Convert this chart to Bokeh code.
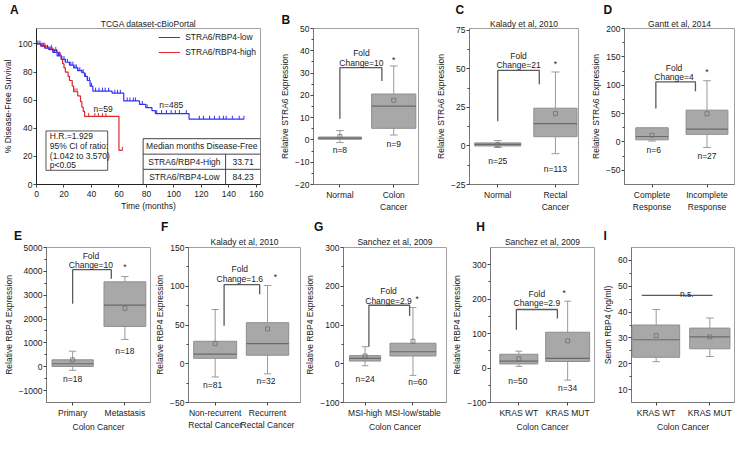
from bokeh.plotting import figure
from bokeh.layouts import column, row
from bokeh.models import Range1d, FixedTicker, Legend, LegendItem, ColumnDataSource, Title
from bokeh.embed import file_html
from bokeh.resources import INLINE
from bokeh.core.properties import value

FONT = "Liberation Sans"
FS = "8.5px"
TXT = "#1a1a1a"
ROW_H = 217
BLUE = "#3030ff"
RED = "#e0282c"
BOX_FILL = "#a8a8a8"
BOX_LINE = "#8e8e8e"
MED_COL = "#6a6a6a"
WHISK = "#9a9a9a"
BRK = "#5a5a5a"

# ---------------- Panel A: Kaplan-Meier (TCGA dataset-cBioPortal) ----------------
A_low_t = [0, 3, 6, 9, 12, 15, 18, 21, 24, 27, 30, 33, 35, 37, 39, 41, 55, 63.5, 75, 79.5, 84, 86.5, 111, 151]
A_low_s = [100, 98.5, 97, 96, 94, 91.5, 89, 87, 85, 83, 81, 79.5, 77, 74, 70, 66.5, 65, 59.5, 57, 54.7, 52.5, 50.5, 46.5, 46.5]
A_low_cens = [1, 2.5, 4, 5, 6.5, 8, 9, 10.5, 12, 13, 14.5, 16, 17, 18.5, 20, 21, 22.5, 24, 25, 26.5, 28, 29,
              30, 31.5, 33, 34, 35.5, 37, 38.5, 40, 43, 45.5, 48, 50, 52.5, 57, 59, 61, 66, 68, 70.5, 72, 77,
              80.5, 87.5, 91, 94.5, 98, 101, 104, 109, 118.5, 121.5, 126, 129.5, 133, 136, 138, 142.5, 147.5, 151]
A_high_t = [0, 4, 8, 12, 15, 17, 18, 19, 20, 21, 23, 24, 26, 27, 30, 32, 33, 34, 35, 60, 62.5]
A_high_s = [100, 98.5, 97, 95.5, 94, 92, 89, 86, 83, 80, 77, 74, 70, 66, 63, 59, 55, 52, 48.5, 24.3, 24.3]
A_high_cens = [6, 11, 14, 28, 29.5, 38, 42.5, 45, 48, 50.5, 62.5]
A_groups = ["STRA6/RBP4-low", "STRA6/RBP4-high"]
A_n = [485, 59]
A_hr = 1.929
A_ci = (1.042, 3.570)
A_p = "p<0.05"
A_table_groups = ["STRA6/RBP4-High", "STRA6/RBP4-Low"]
A_table_median = ["33.71", "84.23"]

# ---------------- Box panels ----------------
B_labels = ["Normal", "Colon\nCancer"]
B_q1 = [0.3, 5.2]
B_med = [0.8, 15.2]
B_q3 = [1.3, 20.6]
B_wlo = [-1.2, 2.2]
B_whi = [4.2, 33.2]
B_mean = [1.5, 17.8]
B_n = [8, 9]
B_fold = 10

C_labels = ["Normal", "Rectal\nCancer"]
C_q1 = [0.0, 6.0]
C_med = [1.0, 14.5]
C_q3 = [2.0, 24.5]
C_wlo = [-1.0, -5.0]
C_whi = [3.5, 48.0]
C_mean = [0.8, 21.0]
C_n = [25, 113]
C_fold = 21

D_labels = ["Complete\nResponse", "Incomplete\nResponse"]
D_q1 = [3.7, 13.4]
D_med = [9.6, 22.6]
D_q3 = [25.0, 56.0]
D_wlo = [1.6, -9.7]
D_whi = [24.0, 108.0]
D_mean = [12.0, 49.8]
D_n = [6, 27]
D_fold = 4

E_labels = ["Primary", "Metastasis"]
E_q1 = [10, 1690]
E_med = [125, 2580]
E_q3 = [290, 3560]
E_wlo = [-150, 1145]
E_whi = [650, 3780]
E_mean = [290, 2450]
E_n = [18, 18]
E_fold = 10

F_labels = ["Non-recurrent\nRectal Cancer", "Recurrent\nRectal Cancer"]
F_q1 = [7, 11]
F_med = [12.5, 26]
F_q3 = [29, 53]
F_wlo = [-17, -13]
F_whi = [70, 101]
F_mean = [26, 45]
F_n = [81, 32]
F_fold = 1.6

G_labels = ["MSI-high", "MSI-low/stable"]
G_q1 = [7, 20]
G_med = [14, 31]
G_q3 = [21, 53]
G_wlo = [-5, -30]
G_whi = [44, 145]
G_mean = [20, 58]
G_n = [24, 60]
G_fold = 2.9

H_labels = ["KRAS WT", "KRAS MUT"]
H_q1 = [12, 19]
H_med = [20, 28]
H_q3 = [40, 104]
H_wlo = [5, -35]
H_whi = [49, 194]
H_mean = [27, 79]
H_n = [50, 34]
H_fold = 2.9

I_labels = ["KRAS WT", "KRAS MUT"]
I_q1 = [22.5, 25.8]
I_med = [29.3, 30.4]
I_q3 = [35.0, 33.8]
I_wlo = [20.8, 22.8]
I_whi = [41.0, 37.7]
I_mean = [30.9, 30.4]


def make_fig(cfg):
    p = figure(width=cfg["W"], height=ROW_H, x_range=Range1d(*cfg["xr"]), y_range=Range1d(*cfg["yr"]),
               tools="", toolbar_location=None, output_backend="svg",
               min_border_left=cfg["L"], min_border_right=cfg["R"],
               min_border_top=cfg["T"], min_border_bottom=cfg["B"])
    p.grid.visible = False
    p.outline_line_color = "#a0a0a0"
    p.outline_line_width = 1
    p.background_fill_color = "white"
    p.border_fill_color = "white"
    for ax in p.axis:
        ax.axis_line_color = "#777777"
        ax.major_tick_line_color = "#444444"
        ax.minor_tick_line_color = "#444444"
        ax.major_tick_out = 3
        ax.major_tick_in = 0
        ax.minor_tick_out = 2
        ax.minor_tick_in = 0
        ax.major_label_text_font = FONT
        ax.major_label_text_font_size = FS
        ax.major_label_text_color = TXT
        ax.major_label_standoff = 1
        ax.axis_label_text_font = FONT
        ax.axis_label_text_font_size = FS
        ax.axis_label_text_font_style = "normal"
        ax.axis_label_text_color = TXT
        ax.axis_label_standoff = 2
    p.title.text = cfg["letter"]
    p.title.text_font = FONT
    p.title.text_font_size = "12px"
    p.title.text_font_style = "bold"
    p.title.text_color = "#111111"
    p.title.align = "left"
    p.title.offset = cfg["lx"] - 4 - cfg["L"]
    p.title.standoff = cfg.get("lstand", 0)
    if cfg.get("title"):
        p.add_layout(Title(text=cfg["title"], align="center", text_font=FONT, text_font_size=FS,
                           text_font_style="normal", text_color=TXT, standoff=cfg.get("tstand", 0)), "above")
    return p


def txt(p, xs, ys, texts, align="center", baseline="middle", size=FS):
    p.text(x=xs, y=ys, text=texts, text_font=value(FONT), text_font_size=value(size),
           text_color=TXT, text_align=align, text_baseline=baseline)


def km_level(times, surv, t):
    level = surv[0]
    for ti, si in zip(times, surv):
        if ti <= t:
            level = si
    return level


# ---------------- build panel A ----------------
cA = dict(W=277, L=29, R=17, T=24, B=33, xr=(0, 163), yr=(0, 111), letter="A", lx=6.6,
          title="TCGA dataset-cBioPortal", tstand=0)
pa = make_fig(cA)
pa.xaxis.ticker = FixedTicker(ticks=[0, 20, 40, 60, 80, 100, 120, 140, 160])
pa.yaxis.ticker = FixedTicker(ticks=[0, 20, 40, 60, 80, 100])
pa.xaxis.axis_label = "Time (months)"
pa.yaxis.axis_label = "% Disease-Free Survival"
pa.xaxis.major_label_standoff = 3
pa.xaxis.axis_label_standoff = 1
pa.axis.axis_line_color = "#222222"
r_low = pa.step(A_low_t, A_low_s, mode="after", line_color=BLUE, line_width=1.2)
r_high = pa.step(A_high_t, A_high_s, mode="after", line_color=RED, line_width=1.2)
low_y = [km_level(A_low_t, A_low_s, t) for t in A_low_cens]
high_y = [km_level(A_high_t, A_high_s, t) for t in A_high_cens]
pa.segment(x0=A_low_cens, x1=A_low_cens, y0=low_y, y1=[y + 2.4 for y in low_y], line_color=BLUE, line_width=1)
pa.segment(x0=A_high_cens, x1=A_high_cens, y0=high_y, y1=[y + 2.4 for y in high_y], line_color=RED, line_width=1)
leg = Legend(items=[LegendItem(label=A_groups[0], renderers=[r_low]),
                    LegendItem(label=A_groups[1], renderers=[r_high])],
             location="top_right", border_line_color=None, background_fill_alpha=0,
             label_text_font=FONT, label_text_font_size=FS, label_text_color=TXT,
             glyph_width=22, glyph_height=10, label_height=10, spacing=5, padding=6, margin=4)
pa.add_layout(leg)
txt(pa, [48.5, 98], [53.5, 56.3], ["n=%d" % A_n[1], "n=%d" % A_n[0]])
pa.quad(left=[6.9], right=[51.8], bottom=[10.1], top=[38.1], fill_color="white", line_color="#555555")
txt(pa, [9.7] * 4, [34.4, 27.4, 20.5, 13.9],
    ["H.R.=%.3f" % A_hr, "95% CI of ratio:", "(%.3f to %.3f)" % A_ci, A_p], align="left")
pa.quad(left=[77.6], right=[163], bottom=[0], top=[32.6], fill_color="white", line_color="#444444")
pa.segment(x0=[77.6, 77.6, 137.6], x1=[163, 163, 137.6], y0=[21.6, 10.8, 0], y1=[21.6, 10.8, 21.6],
           line_color="#444444", line_width=1)
txt(pa, [120.3], [27.1], ["Median months Disease-Free"])
txt(pa, [107.6, 107.6], [16.2, 5.4], A_table_groups)
txt(pa, [150.3, 150.3], [16.2, 5.4], A_table_median)


# ---------------- box panel builder ----------------
def box_panel(labels, q1, med, q3, wlo, whi, mean, ns, fold, cfg):
    p = make_fig(cfg)
    p.xaxis.ticker = FixedTicker(ticks=[1, 2])
    p.xaxis.major_label_overrides = {1: labels[0], 2: labels[1]}
    p.xaxis.major_label_standoff = 2
    p.xaxis.axis_label_standoff = 1
    p.yaxis.ticker = FixedTicker(ticks=cfg["yt"], minor_ticks=cfg["ym"])
    p.yaxis.axis_label = cfg["ylab"]
    if cfg.get("xlab"):
        p.xaxis.axis_label = cfg["xlab"]
    xs = [1, 2]
    bw = cfg["bw"]
    cap = 0.07
    src = ColumnDataSource(dict(
        x=xs, w=bw, q1=q1, med=med, q3=q3, wlo=wlo, whi=whi, mean=mean,
        xl=[x - w / 2 for x, w in zip(xs, bw)], xr=[x + w / 2 for x, w in zip(xs, bw)],
        cl=[x - cap for x in xs], cr=[x + cap for x in xs]))
    p.segment(x0="x", x1="x", y0="q3", y1="whi", source=src, line_color=WHISK, line_width=1)
    p.segment(x0="x", x1="x", y0="q1", y1="wlo", source=src, line_color=WHISK, line_width=1)
    p.segment(x0="cl", x1="cr", y0="whi", y1="whi", source=src, line_color=WHISK, line_width=1)
    p.segment(x0="cl", x1="cr", y0="wlo", y1="wlo", source=src, line_color=WHISK, line_width=1)
    p.vbar(x="x", width="w", bottom="q1", top="q3", source=src, fill_color=BOX_FILL, line_color=BOX_LINE, line_width=1)
    p.segment(x0="xl", x1="xr", y0="med", y1="med", source=src, line_color=MED_COL, line_width=1.2)
    p.scatter(x="x", y="mean", source=src, marker="square", size=4, fill_color=None, line_color="#6f6f6f", line_width=0.8)
    if ns is not None:
        txt(p, cfg["nx"], cfg["ny"], ["n=%d" % n for n in ns])
    if fold is not None:
        bl, br, lo, top, rlo = cfg["brk"]
        p.line(x=[bl, bl, br, br], y=[lo, top, top, rlo], line_color=BRK, line_width=1.3)
        fx, fy1, fy2 = cfg["fold"]
        txt(p, [fx, fx], [fy1, fy2], ["Fold", "Change=%g" % fold])
        sx, sy = cfg["star"]
        txt(p, [sx], [sy], ["*"])
    return p


STRA6 = "Relative STRA6 Expression"
RBP4 = "Relative RBP4 Expression"

cB = dict(W=156, L=35, R=15, T=20, B=31, xr=(0.51, 2.46), yr=(-20, 50),
          yt=[-20, -10, 0, 10, 20, 30, 40, 50], ym=[-15, -5, 5, 15, 25, 35, 45], bw=[0.8, 0.82],
          brk=(1.0, 1.78, 9.5, 32.4, 26.4), fold=(1.4, 38.8, 34.6), star=(2.0, 35.8),
          nx=[1.0, 2.0], ny=[-4.5, -2.0], ylab=STRA6, letter="B", lx=6.9, lstand=3)
cC = dict(W=155, L=29, R=10, T=24, B=29, xr=(0.51, 2.40), yr=(-25, 76.2),
          yt=[-25, 0, 25, 50, 75], ym=[-12.5, 12.5, 37.5, 62.5], bw=[0.8, 0.75],
          brk=(1.0, 1.72, 16, 49, 40), fold=(1.36, 58.5, 52.5), star=(2.0, 53),
          nx=[1.0, 2.0], ny=[-10, -15], ylab=STRA6, title="Kalady et al, 2010",
          letter="C", lx=19)
cD = dict(W=148, L=29, R=2, T=24, B=29, xr=(0.5, 2.5), yr=(-75, 200),
          yt=[-50, 0, 50, 100, 150, 200], ym=[-25, 25, 75, 125, 175], bw=[0.59, 0.76],
          brk=(1.07, 1.79, 59, 106, 89.5), fold=(1.4, 131, 115), star=(2.0, 123),
          nx=[1.03, 2.0], ny=[-13.5, -25], ylab=STRA6, title="Gantt et al, 2014",
          letter="D", lx=12)
cE = dict(W=152, L=41, R=2, T=29, B=24, xr=(0.5, 2.49), yr=(-1500, 5000),
          yt=[-1000, 0, 1000, 2000, 3000, 4000, 5000], ym=[-500, 500, 1500, 2500, 3500, 4500],
          bw=[0.79, 0.8], brk=(1.0, 1.74, 2645, 4070, 3690), fold=(1.35, 4645, 4265), star=(2.0, 4200),
          nx=[1.0, 2.0], ny=[-500, 675], ylab=RBP4, xlab="Colon Cancer", letter="E", lx=12.4, lstand=9)
cF = dict(W=150, L=32, R=2, T=29, B=24, xr=(0.49, 2.63), yr=(-50, 150),
          yt=[-50, 0, 50, 100, 150], ym=[-25, 25, 75, 125], bw=[0.82, 0.81],
          brk=(1.17, 1.85, 49, 102, 89.6), fold=(1.47, 122, 109), star=(2.15, 112),
          nx=[0.95, 1.97], ny=[-28, -22], ylab=RBP4, title="Kalady et al, 2010", tstand=2,
          letter="F", lx=8.6)
cG = dict(W=147, L=31, R=3, T=29, B=24, xr=(0.55, 2.7), yr=(-100, 300),
          yt=[-100, 0, 100, 200, 300], ym=[-50, 50, 150, 250], bw=[0.65, 0.96],
          brk=(1.08, 1.93, 44, 151, 123), fold=(1.49, 187, 163), star=(2.09, 167),
          nx=[1.0, 2.1], ny=[-40, -46], ylab=RBP4, xlab="Colon Cancer", title="Sanchez et al, 2009",
          tstand=2, letter="G", lx=5.4)
cH = dict(W=151, L=38, R=6, T=29, B=24, xr=(0.42, 2.55), yr=(-100, 350),
          yt=[-100, 0, 100, 200, 300], ym=[-50, 50, 150, 250], bw=[0.78, 0.9],
          brk=(0.95, 1.79, 111, 170, 144), fold=(1.37, 215, 190), star=(1.93, 217),
          nx=[0.98, 2.0], ny=[-38, -58], ylab=RBP4, xlab="Colon Cancer", title="Sanchez et al, 2009",
          tstand=2, letter="H", lx=27.8)
cI = dict(W=136, L=28, R=2, T=29, B=24, xr=(0.54, 2.46), yr=(5, 65),
          yt=[10, 20, 30, 40, 50, 60], ym=[15, 25, 35, 45, 55], bw=[0.875, 0.75],
          ylab="Serum RBP4 (ng/ml)", xlab="Colon Cancer", letter="I", lx=4, lstand=10)

pb = box_panel(B_labels, B_q1, B_med, B_q3, B_wlo, B_whi, B_mean, B_n, B_fold, cB)
pc = box_panel(C_labels, C_q1, C_med, C_q3, C_wlo, C_whi, C_mean, C_n, C_fold, cC)
pd = box_panel(D_labels, D_q1, D_med, D_q3, D_wlo, D_whi, D_mean, D_n, D_fold, cD)
pe = box_panel(E_labels, E_q1, E_med, E_q3, E_wlo, E_whi, E_mean, E_n, E_fold, cE)
pf = box_panel(F_labels, F_q1, F_med, F_q3, F_wlo, F_whi, F_mean, F_n, F_fold, cF)
pg = box_panel(G_labels, G_q1, G_med, G_q3, G_wlo, G_whi, G_mean, G_n, G_fold, cG)
ph = box_panel(H_labels, H_q1, H_med, H_q3, H_wlo, H_whi, H_mean, H_n, H_fold, cH)
pi = box_panel(I_labels, I_q1, I_med, I_q3, I_wlo, I_whi, I_mean, None, None, cI)
pi.segment(x0=[0.73], x1=[2.05], y0=[46.5], y1=[46.5], line_color=BRK, line_width=1.2)
txt(pi, [1.57], [47.0], ["n.s."], baseline="alphabetic")

layout = column(row(pa, pb, pc, pd), row(pe, pf, pg, ph, pi))
open("out.html", "w").write(file_html(layout, INLINE))
